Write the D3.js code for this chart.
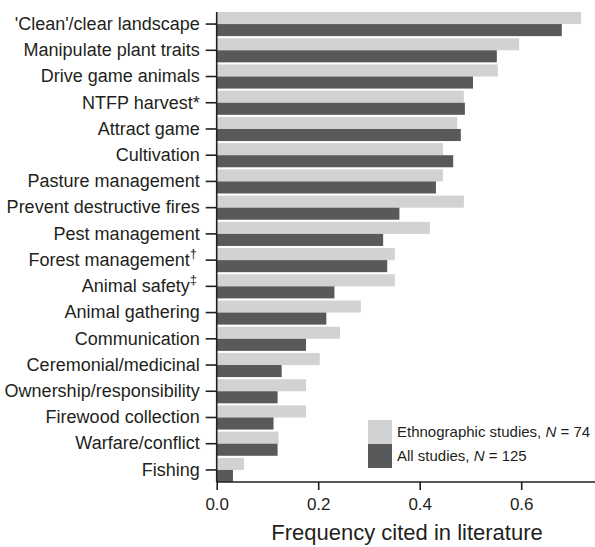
<!DOCTYPE html>
<html>
<head>
<meta charset="utf-8">
<script src="https://cdn.jsdelivr.net/npm/d3@7"></script>
<style>
  body { margin: 0; background: #fff; }
  svg { display: block; font-family: "Liberation Sans", Arial, sans-serif; }
</style>
</head>
<body>
<svg id="chart" width="595" height="547"></svg>
<script>
const categories = [
  "'Clean'/clear landscape", "Manipulate plant traits", "Drive game animals", "NTFP harvest*",
  "Attract game", "Cultivation", "Pasture management", "Prevent destructive fires",
  "Pest management", "Forest management", "Animal safety", "Animal gathering",
  "Communication", "Ceremonial/medicinal", "Ownership/responsibility", "Firewood collection",
  "Warfare/conflict", "Fishing"
];
const superscripts = { "Forest management": "\u2020", "Animal safety": "\u2021" };
const ethnographic = [0.718, 0.596, 0.554, 0.487, 0.474, 0.446, 0.446, 0.487, 0.420, 0.351,
                      0.351, 0.284, 0.243, 0.203, 0.176, 0.176, 0.122, 0.054];
const allStudies   = [0.680, 0.552, 0.505, 0.489, 0.481, 0.466, 0.432, 0.360, 0.328, 0.336,
                      0.232, 0.216, 0.176, 0.128, 0.120, 0.112, 0.120, 0.032];
const seriesNames = ["Ethnographic studies", "All studies"];
const seriesN = [74, 125];
const xTicks = [0.0, 0.2, 0.4, 0.6];
const xTitle = "Frequency cited in literature";

const colors = ["#d1d2d4", "#58595b"];
const ink = "#231f20";
const svg = d3.select("#chart");
const x0 = 216.7, yTop = 12, yBot = 482;

const x = d3.scaleLinear().domain([0, 0.75]).range([x0, x0 + 0.75 * 507.5]);
const y = d3.scaleBand().domain(categories).range([yTop, yBot]).paddingInner(0.08).paddingOuter(0);
const ySub = d3.scaleBand().domain([0, 1]).range([0, y.bandwidth()]);

const series = [ethnographic, allStudies];
series.forEach((vals, si) => {
  svg.append("g").selectAll("rect").data(categories).join("rect")
    .attr("x", x(0))
    .attr("y", d => y(d) + ySub(si))
    .attr("width", (d, i) => x(vals[i]) - x(0))
    .attr("height", ySub.bandwidth())
    .attr("fill", colors[si]);
});

// Y axis
const yAxis = svg.append("g").attr("transform", `translate(${x0},0)`)
  .call(d3.axisLeft(y).tickSize(11).tickPadding(6).tickFormat(d => d));
yAxis.select(".domain").attr("stroke", ink).attr("stroke-width", 1.6)
  .attr("d", `M0,${yTop}V${yBot}`);
yAxis.selectAll(".tick line").attr("stroke", ink).attr("stroke-width", 1.6);
yAxis.selectAll(".tick text").attr("font-size", 18).attr("fill", ink)
  .attr("font-family", "Liberation Sans, Arial, sans-serif")
  .each(function(d) {
    const sup = superscripts[d];
    if (sup) {
      const t = d3.select(this).text(null);
      t.append("tspan").text(d);
      t.append("tspan").attr("dy", -8).attr("font-size", 13).text(sup);
      t.append("tspan").attr("dy", 8).attr("font-size", 10).text("\u00a0");
    }
  });

// X axis
const xAxis = svg.append("g").attr("transform", `translate(0,${yBot})`)
  .call(d3.axisBottom(x).tickValues(xTicks).tickSize(8).tickPadding(8).tickFormat(d3.format(".1f")));
xAxis.select(".domain").attr("stroke", ink).attr("stroke-width", 1.6)
  .attr("d", `M${x0},0H595`);
xAxis.selectAll(".tick line").attr("stroke", ink).attr("stroke-width", 1.6);
xAxis.selectAll(".tick text").attr("font-size", 17).attr("fill", ink)
  .attr("font-family", "Liberation Sans, Arial, sans-serif");

svg.append("text").attr("x", 407).attr("y", 540).attr("text-anchor", "middle")
  .attr("font-size", 22).attr("fill", ink).text(xTitle);

// Legend
const lg = svg.append("g").attr("transform", "translate(368,420)");
seriesNames.forEach((name, i) => {
  lg.append("rect").attr("x", 0).attr("y", i * 24).attr("width", 24).attr("height", 24).attr("fill", colors[i]);
  const t = lg.append("text").attr("x", 29).attr("y", i * 24 + 17).attr("font-size", 15).attr("fill", ink);
  t.append("tspan").text(name + ", ");
  t.append("tspan").attr("font-style", "italic").text("N");
  t.append("tspan").text(" = " + seriesN[i]);
});
</script>
</body>
</html>
